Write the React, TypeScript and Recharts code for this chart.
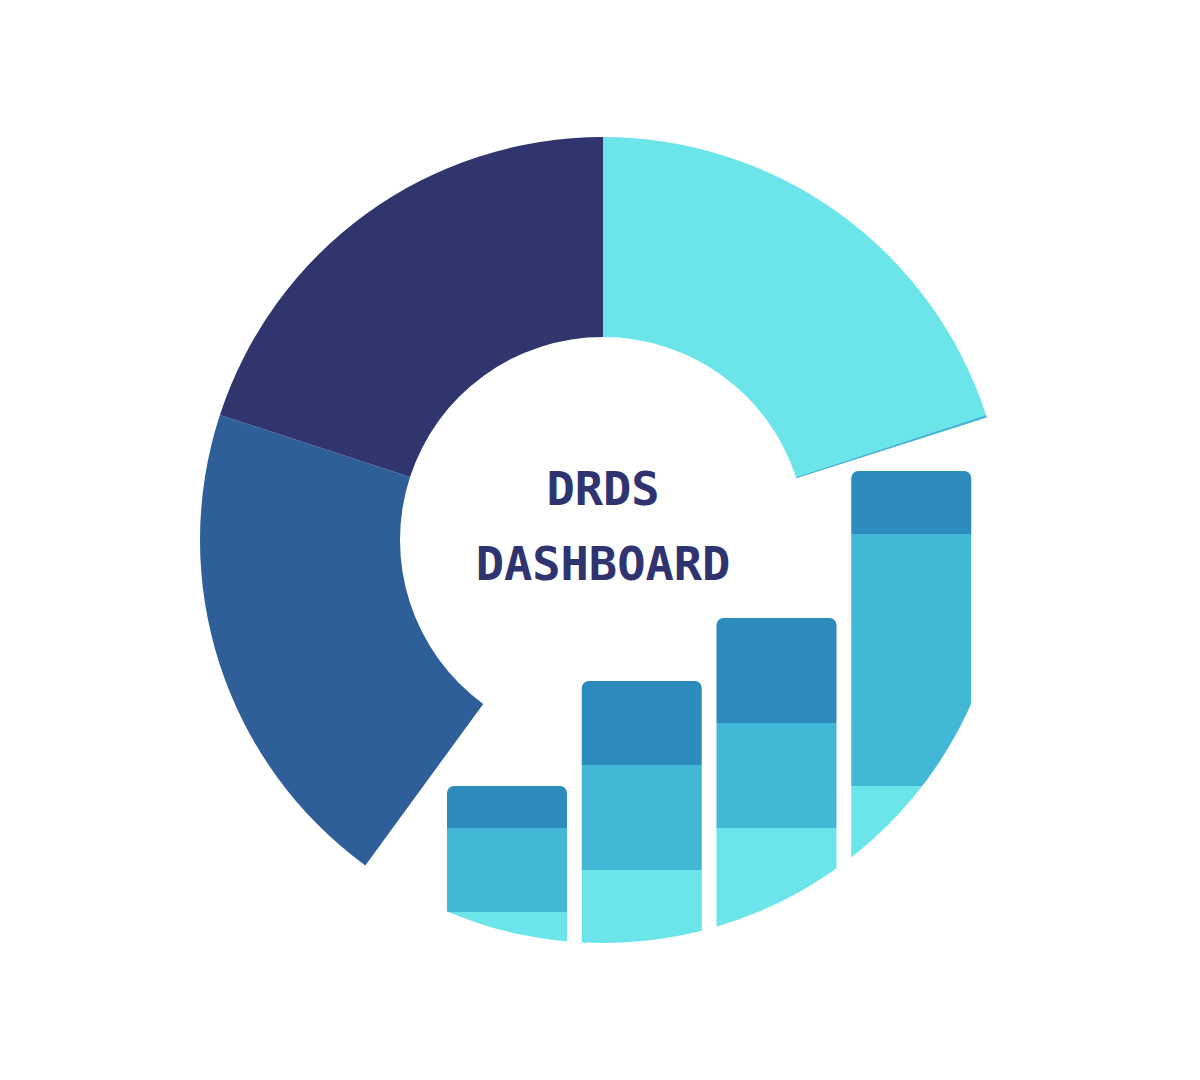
import { Bar, BarChart, Cell, Pie, PieChart, XAxis, YAxis } from "recharts";

// donut slices, clockwise from 12 o'clock
const sliceNames = ["Segment A", "Edge", "Bars", "Segment B", "Segment C"];
const sliceValues = [20, 0.1, 40, 20, 20];
const sliceColors = ["#6be5e9", "#42b7d6", "none", "#2e5f98", "#31356e"];

// stacked bars
const quarters = ["Q1", "Q2", "Q3", "Q4"];
const lowValues = [2, 4, 6, 8];
const midValues = [4, 5, 5, 12];
const topValues = [2, 4, 5, 3];

const pieData = sliceNames.map((name, i) => ({ name, value: sliceValues[i] }));
const barData = quarters.map((q, i) => ({
  q,
  low: lowValues[i],
  mid: midValues[i],
  top: topValues[i],
}));

const W = 1200;
const H = 1080;
const CX = 603;
const CY = 540;
const R = 403;

export default function App() {
  return (
    <div style={{ position: "absolute", left: 0, top: 0, width: W, height: H, background: "#fff" }}>
      <div style={{ position: "absolute", left: 0, top: 0 }}>
        <PieChart width={W} height={H} margin={{ top: 0, right: 0, bottom: 0, left: 0 }}>
          <Pie
            data={pieData}
            dataKey="value"
            nameKey="name"
            cx={CX}
            cy={CY}
            innerRadius={203}
            outerRadius={R}
            startAngle={90}
            endAngle={-270}
            stroke="none"
            isAnimationActive={false}
          >
            {pieData.map((d, i) => (
              <Cell key={d.name} fill={sliceColors[i]} />
            ))}
          </Pie>
        </PieChart>
      </div>

      <div
        style={{
          position: "absolute",
          left: 0,
          top: 0,
          clipPath: `circle(${R}px at ${CX}px ${CY}px)`,
        }}
      >
        <BarChart
          width={W}
          height={H}
          data={barData}
          margin={{ top: 429, right: 221, bottom: 126, left: 440 }}
        >
          <XAxis dataKey="q" hide />
          <YAxis hide domain={[0, 25]} />
          <Bar dataKey="low" stackId="s" fill="#6be5e9" barSize={120} isAnimationActive={false} />
          <Bar dataKey="mid" stackId="s" fill="#42b7d6" barSize={120} isAnimationActive={false} />
          <Bar
            dataKey="top"
            stackId="s"
            fill="#2e8bbd"
            barSize={120}
            radius={[7, 7, 0, 0]}
            isAnimationActive={false}
          />
        </BarChart>
      </div>

      <svg width={W} height={H} style={{ position: "absolute", left: 0, top: 0, pointerEvents: "none" }}>
        <text
          x={CX}
          y={505}
          textAnchor="middle"
          fill="#2f3370"
          fontFamily="DejaVu Sans Mono"
          fontWeight="bold"
          fontSize={47}
        >
          DRDS
        </text>
        <text
          x={CX}
          y={580}
          textAnchor="middle"
          fill="#2f3370"
          fontFamily="DejaVu Sans Mono"
          fontWeight="bold"
          fontSize={47}
        >
          DASHBOARD
        </text>
      </svg>
    </div>
  );
}
